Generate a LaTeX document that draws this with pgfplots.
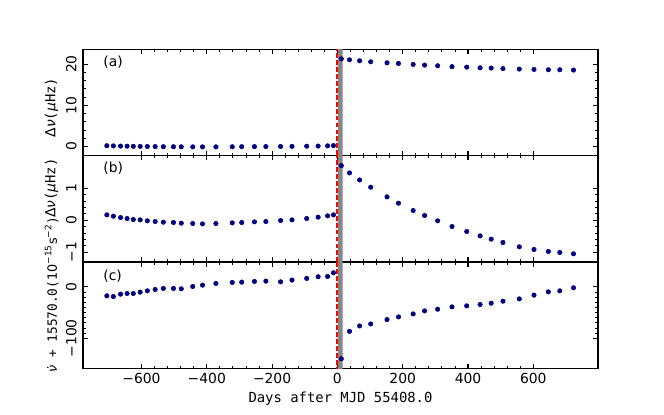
\documentclass[border=0pt]{standalone}
\usepackage{fontspec}
\setmainfont{DejaVu Sans}
\setsansfont{DejaVu Sans}
\setmonofont{DejaVu Sans Mono}
\usepackage{pgfplots}
\pgfplotsset{compat=1.18}
\definecolor{navy}{HTML}{000080}
\definecolor{bandgray}{HTML}{868686}
\definecolor{glitchred}{HTML}{FF0000}

\pgfplotstableread{
x a b c
-706 0.17 0.167 -17.5
-686 0.13 0.125 -18.8
-664 0.08 0.083 -14.3
-644 0.05 0.052 -13.0
-625 0.02 0.021 -13.0
-604 0.01 0.010 -10.4
-582 -0.02 -0.021 -7.8
-558 -0.04 -0.042 -5.2
-533 -0.06 -0.063 -3.2
-502 -0.07 -0.073 -3.2
-478 -0.09 -0.094 -3.9
-443 -0.10 -0.104 0.6
-413 -0.11 -0.115 3.2
-372 -0.10 -0.104 6.5
-322 -0.08 -0.083 8.4
-293 -0.07 -0.073 9.1
-254 -0.05 -0.052 10.4
-219 -0.04 -0.042 11.0
-174 -0.01 -0.010 9.7
-139 0.01 0.010 13.0
-94 0.05 0.052 16.2
-59 0.09 0.094 19.5
-30 0.14 0.135 20.1
-12 0.20 0.167 27.3
12 21.29 1.708 -139.6
37 21.05 1.479 -86.4
68 20.81 1.260 -76.0
102 20.56 1.031 -72.1
152 20.32 0.729 -63.6
187 20.16 0.531 -58.4
232 19.92 0.302 -52.6
267 19.76 0.146 -46.8
307 19.60 -0.021 -43.5
351 19.38 -0.198 -39.0
396 19.27 -0.354 -37.0
437 19.11 -0.490 -34.4
471 19.03 -0.594 -31.8
507 18.90 -0.698 -27.9
557 18.79 -0.833 -23.4
602 18.71 -0.917 -16.2
646 18.63 -0.979 -9.7
681 18.63 -1.010 -7.8
723 18.55 -1.052 -1.9
}\datatable

\pgfplotsset{
  panel/.style={
    scale only axis, width=370.8pt, height=76.6pt,
    anchor=south west,
    xmin=-779, xmax=798,
    xtick={-600,-400,-200,0,200,400,600},
    minor x tick num=4,
    tick align=inside, xtick pos=both, ytick pos=both,
    xticklabel pos=lower, yticklabel pos=left,
    major tick length=3.5pt, minor tick length=2pt,
    every tick/.style={black, line width=0.8pt},
    every minor tick/.style={line width=0.6pt},
    axis line style={line width=0.8pt, black},
    yticklabel style={rotate=90, anchor=south, inner sep=4.5pt},
    clip=true,
  },
  pts/.style={only marks, mark=*, mark size=1.6pt, color=navy, mark options={draw=navy, fill=navy}},
  band/.style={fill=bandgray, draw=none},
  glitch/.style={color=glitchred, draw=glitchred, line width=1.2pt, dash pattern=on 3.5pt off 1.5pt},
}

\begin{document}
\begin{tikzpicture}
\fill[white] (0,0) rectangle (478.08pt,298.8pt);

% panel (a)
\begin{axis}[panel, at={(59.76pt,186.7pt)},
  ymin=-2.25, ymax=23.6, ytick={0,10,20}, yticklabels={0,10,20},
  minor y tick num=4, xticklabels={}]
  \addplot[band] coordinates {(2,-100) (16,-100) (16,100) (2,100) (2,-100)};
  \addplot[glitch] coordinates {(-1,-100) (-1,100)};
  \addplot[pts] table[x=x, y=a] {\datatable};
  \node[anchor=west] at (rel axis cs:0.03,0.88) {(a)};
\end{axis}

% panel (b)
\begin{axis}[panel, at={(59.76pt,110.1pt)},
  ymin=-1.31, ymax=2.02, ytick={-1,0,1}, yticklabels={−1,0,1},
  minor y tick num=4, xticklabels={}]
  \addplot[band] coordinates {(2,-100) (16,-100) (16,100) (2,100) (2,-100)};
  \addplot[glitch] coordinates {(-1,-100) (-1,100)};
  \addplot[pts] table[x=x, y=b] {\datatable};
  \node[anchor=west] at (rel axis cs:0.03,0.88) {(b)};
\end{axis}

% panel (c)
\begin{axis}[panel, at={(59.76pt,33.5pt)},
  ymin=-158.5, ymax=48, ytick={-100,0}, yticklabels={−100,0},
  minor y tick num=9,
  xticklabels={−600,−400,−200,0,200,400,600},
  xlabel={\texttt{Days after MJD 55408.0}},
  xlabel style={at={(axis description cs:0.5,0)}, anchor=north, inner sep=0pt, yshift=-16.6pt}]
  \addplot[band] coordinates {(2,-1000) (16,-1000) (16,1000) (2,1000) (2,-1000)};
  \addplot[glitch] coordinates {(-1,-1000) (-1,1000)};
  \addplot[pts] table[x=x, y=c] {\datatable};
  \node[anchor=west] at (rel axis cs:0.03,0.87) {(c)};
\end{axis}

% y labels
\node[rotate=90] at (37.2pt,221.4pt) {Δ\textit{ν}\texttt{(}\textit{μ}\texttt{Hz)}};
\node[rotate=90] at (37.2pt,163.4pt) {Δ\textit{ν}\texttt{(}\textit{μ}\texttt{Hz)}};
\node[rotate=90, anchor=east, font=\fontsize{9.2}{11}\selectfont] at (37.2pt,146.4pt) {\textit{ν̇}\texttt{ + 15570.0(}10\textsuperscript{−15}s\textsuperscript{−2}\texttt{)}};

\pgfresetboundingbox
\path[use as bounding box] (0,0) rectangle (478.08pt,298.8pt);
\end{tikzpicture}
\end{document}
